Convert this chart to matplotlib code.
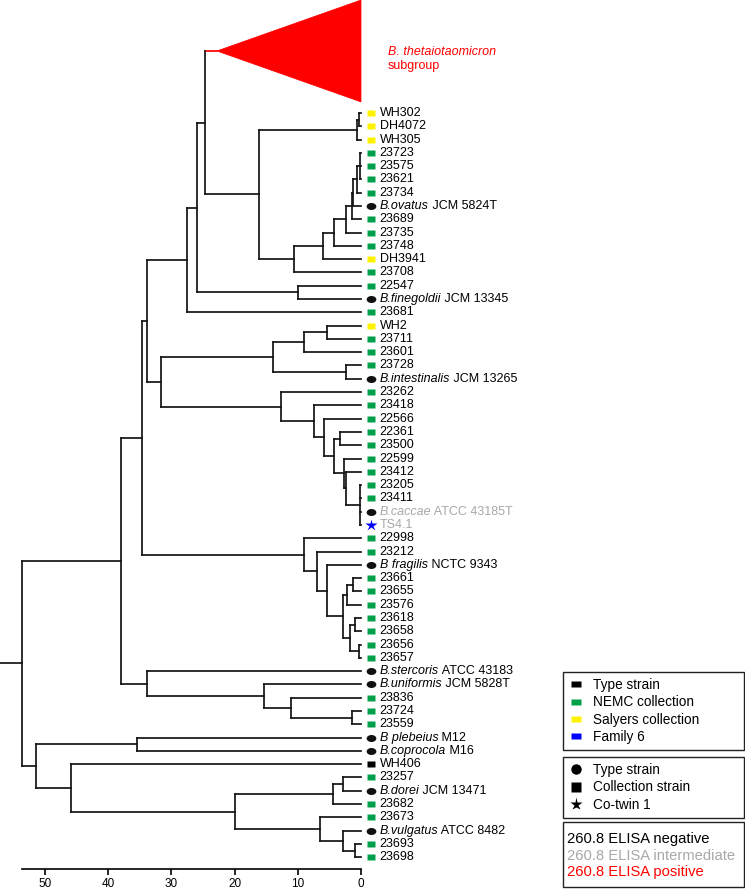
import numpy as np
import matplotlib.pyplot as plt
from matplotlib.path import Path
from matplotlib.lines import Line2D
from matplotlib.patches import Rectangle
from matplotlib.transforms import Affine2D

plt.rcParams['font.family'] = ['Liberation Sans', 'DejaVu Sans']

# leaves, top to bottom
strain = ['WH302', 'DH4072', 'WH305', '23723', '23575', '23621', '23734', 'JCM 5824T', '23689', '23735',
          '23748', 'DH3941', '23708', '22547', 'JCM 13345', '23681', 'WH2', '23711', '23601', '23728',
          'JCM 13265', '23262', '23418', '22566', '22361', '23500', '22599', '23412', '23205', '23411',
          'ATCC 43185T', 'TS4.1', '22998', '23212', 'NCTC 9343', '23661', '23655', '23576', '23618', '23658',
          '23656', '23657', 'ATCC 43183', 'JCM 5828T', '23836', '23724', '23559', 'M12', 'M16', 'WH406',
          '23257', 'JCM 13471', '23682', '23673', 'ATCC 8482', '23693', '23698']
species = {'JCM 5824T': 'B.ovatus', 'JCM 13345': 'B.finegoldii', 'JCM 13265': 'B.intestinalis',
           'ATCC 43185T': 'B.caccae', 'NCTC 9343': 'B fragilis', 'ATCC 43183': 'B.stercoris',
           'JCM 5828T': 'B.uniformis', 'M12': 'B plebeius', 'M16': 'B.coprocola',
           'JCM 13471': 'B.dorei', 'ATCC 8482': 'B.vulgatus'}
# S = Salyers, N = NEMC, T = type strain, K = type colour square, F = family 6 co-twin
collection = list('SSSNNNNTNNNSNNTNSNNNTNNNNNNNNNTFNNTNNNNNNNTTNNNTTKNTNNTNN')
elisa_intermediate = ['ATCC 43185T', 'TS4.1']

# collapsed B. thetaiotaomicron subgroup
theta_height = 22.8
theta_rows = (-8.5, -0.83)

# (height, children)
tree = (53.7, [
    (38.0, [
        (34.7, [
            (33.8, [
                (27.5, [
                    (26.0, [
                        (24.7, ['THETA', (16.1, [
                            (0.6, [(0.3, ['WH302', 'DH4072']), 'WH305']),
                            (10.6, [(6.0, [(4.3, [(2.4, [(1.5, [(1.2, [(0.7, [(0.1, ['23723', '23575', '23621']), '23734']),
                                                                          'JCM 5824T']), '23689']), '23735']), '23748']),
                                           'DH3941']), '23708'])])]),
                        (10.0, ['22547', 'JCM 13345'])]),
                    '23681']),
                (31.7, [
                    (13.9, [(9.0, [(5.4, ['WH2', '23711']), '23601']), (2.4, ['23728', 'JCM 13265'])]),
                    (12.7, ['23262', (7.5, ['23418', (5.8, ['22566', (4.2, [
                        (3.4, ['22361', '23500']),
                        (2.7, ['22599', (2.4, ['23412', (0.1, ['23205', '23411', 'ATCC 43185T', 'TS4.1'])])])])])])])])]),
            (9.0, ['22998', (7.0, ['23212', (5.4, ['NCTC 9343', (2.9, [
                (2.2, [(1.2, ['23661', '23655']), '23576']),
                (1.8, [(0.95, ['23618', '23658']), (0.3, ['23656', '23657'])])])])])])]),
        (33.9, ['ATCC 43183', (15.3, ['JCM 5828T', (11.1, ['23836', (1.5, ['23724', '23559'])])])])]),
    (51.4, [
        (35.5, ['M12', 'M16']),
        (45.9, ['WH406', (19.9, [
            (4.5, [(2.9, ['23257', 'JCM 13471']), '23682']),
            (6.5, ['23673', (2.8, ['ATCC 8482', (0.95, ['23693', '23698'])])])])])])])

RED = '#ff0000'
GREY = '#a8a8a8'
LINE = '#151515'
LW = 1.25
FS = 9
sq_colors = {'S': '#fff200', 'N': '#00a04b', 'K': 'black'}

rect = Path([(-1, -0.6), (1, -0.6), (1, 0.6), (-1, 0.6), (-1, -0.6)], closed=True)
ellipse = Path.unit_circle().transformed(Affine2D().scale(1, 0.72))

fig = plt.figure(figsize=(7.45, 8.89), dpi=100)
ax = fig.add_axes([0, 0, 1, 1])
ax.set_xlim(57.12, -60.76)
ax.set_ylim(58.39, -8.50)

row = {s: i for i, s in enumerate(strain)}
theta_apex = np.mean(theta_rows)


def draw(node):
    if isinstance(node, str):
        if node == 'THETA':
            return theta_apex, theta_height
        return row[node], 0.0
    h, kids = node
    pos = [draw(k) for k in kids]
    ys = [p[0] for p in pos]
    for (y, hk), k in zip(pos, kids):
        ax.plot([h, hk], [y, y], color=RED if k == 'THETA' else LINE, lw=LW,
                solid_capstyle='projecting')
    ax.plot([h, h], [min(ys), max(ys)], color=LINE, lw=LW, solid_capstyle='projecting')
    return np.mean(ys), h


root_y, root_h = draw(tree)
ax.plot([root_h, ax.get_xlim()[0]], [root_y, root_y], color=LINE, lw=LW)

# collapsed subgroup
ax.fill([theta_height, 0, 0], [theta_apex, theta_rows[0], theta_rows[1]], color=RED, lw=0.5)
ax.text(-4.2, theta_apex + 0.1, 'B. thetaiotaomicron', color=RED, fontsize=FS,
        style='italic', va='center', ha='left')
ax.text(-4.2, theta_apex + 1.15, 'subgroup', color=RED, fontsize=FS, va='center', ha='left')

# leaf markers and labels
for i, s in enumerate(strain):
    c = collection[i]
    if c == 'T':
        ax.plot(-1.55, i, marker=ellipse, ms=7.0, color='#111111', mec='none')
    elif c == 'F':
        ax.plot(-1.55, i, marker='*', ms=9, color='#0000ff', mec='none')
    else:
        ax.plot(-1.55, i, marker=rect, ms=6.2, color=sq_colors[c], mec='none')
    tc = GREY if s in elisa_intermediate else 'black'
    sp = species.get(s, '')
    if sp:
        t = ax.text(-2.95, i, sp, style='italic', fontsize=FS, color=tc, va='center', ha='left')
        ax.annotate(' ' + s, xy=(1, 0), xycoords=t, va='bottom', ha='left', fontsize=FS, color=tc)
    else:
        ax.text(-2.95, i, s, fontsize=FS, color=tc, va='center', ha='left')

# distance axis
for side in ['top', 'right', 'left']:
    ax.spines[side].set_visible(False)
ax.spines['bottom'].set_position(('data', 56.9))
ax.spines['bottom'].set_bounds(0, root_h)
ax.spines['bottom'].set_linewidth(1.2)
ax.set_xticks([0, 10, 20, 30, 40, 50])
ax.set_yticks([])
ax.tick_params(axis='x', direction='out', length=4, width=1.2, labelsize=8.5, pad=2)

# legends
W, H = 745.0, 889.0


def box(handles, labels, top, bottom, fs=9.8, **kw):
    leg = fig.legend(handles, labels, loc='upper left',
                     bbox_to_anchor=(563 / W, 1 - bottom / H, 181 / W, (bottom - top) / H),
                     mode='expand', borderaxespad=0, fontsize=fs, fancybox=False,
                     framealpha=1, edgecolor='#222222', **kw)
    leg.get_frame().set_linewidth(1.0)
    return leg


h1 = [Line2D([], [], ls='none', marker=rect, ms=7.5, color=c, mec='none')
      for c in ['black', '#00a04b', '#fff200', '#0000ff']]
box(h1, ['Type strain', 'NEMC collection', 'Salyers collection', 'Family 6'], 672, 750,
    handlelength=1.0, handletextpad=0.75, borderpad=0.45, labelspacing=0.24)
h2 = [Line2D([], [], ls='none', marker=m, ms=ms, color='black', mec='none')
      for m, ms in [('o', 7.5), ('s', 6.5), ('*', 9.5)]]
box(h2, ['Type strain', 'Collection strain', 'Co-twin 1'], 757, 817,
    handlelength=1.0, handletextpad=0.75, borderpad=0.45, labelspacing=0.24)

# ELISA box: frame drawn separately so the text can sit lower than the legend padding allows
fig.patches.append(Rectangle((563 / W, 1 - 887 / H), 181 / W, 65 / H, transform=fig.transFigure,
                             facecolor='white', edgecolor='#222222', lw=1.0, zorder=4))
h3 = [Line2D([], [], ls='none') for _ in range(3)]
box(h3, ['260.8 ELISA negative', '260.8 ELISA intermediate', '260.8 ELISA positive'], 828, 887,
    fs=10.6, handlelength=0, handletextpad=0, borderpad=0.3, labelspacing=0.17,
    labelcolor=['black', GREY, RED], frameon=False)

fig.savefig('out.png', dpi=100)
